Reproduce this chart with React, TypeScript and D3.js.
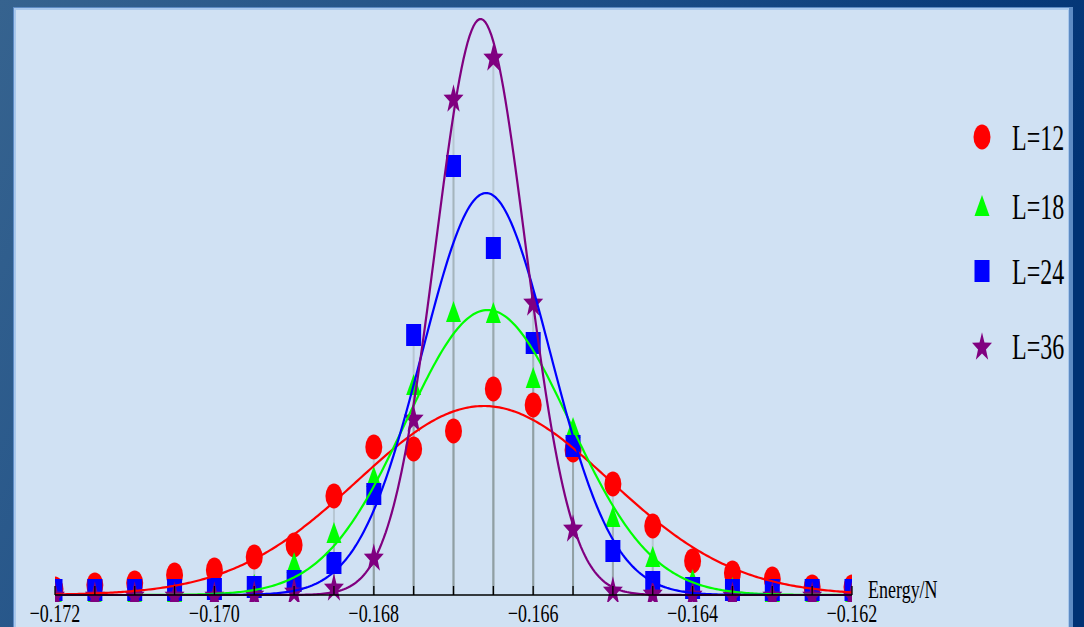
import React, { useEffect, useRef } from 'react';
import * as d3 from 'd3';

// energy per site, sampled every 0.0005
const energies = d3.range(21).map(i => -0.172 + i * 0.0005);

const seriesNames = ['L=12', 'L=18', 'L=24', 'L=36'];
const seriesColors = ['#ff0000', '#00ff00', '#0000ff', '#800080'];
const seriesShapes = ['circle', 'triangle', 'square', 'star'];

// histogram values
const valuesL12 = [0.06, 0.10, 0.12, 0.20, 0.25, 0.38, 0.50, 0.99, 1.48, 1.46, 1.64, 2.06, 1.90, 1.45, 1.11, 0.69, 0.34, 0.22, 0.16, 0.08, 0.08];
const valuesL18 = [0.01, 0.01, 0.02, 0.03, 0.05, 0.10, 0.32, 0.62, 1.18, 2.10, 2.83, 2.82, 2.17, 1.67, 0.78, 0.38, 0.15, 0.07, 0.03, 0.01, 0.01];
const valuesL24 = [0.05, 0.05, 0.05, 0.05, 0.06, 0.08, 0.14, 0.32, 1.01, 2.60, 4.29, 3.47, 2.52, 1.49, 0.44, 0.13, 0.07, 0.05, 0.05, 0.05, 0.05];
const valuesL36 = [0, 0, 0, 0, 0, 0.01, 0.04, 0.08, 0.38, 1.77, 4.97, 5.38, 2.93, 0.67, 0.05, 0.02, 0.01, 0, 0, 0, 0];
const seriesValues = [valuesL12, valuesL18, valuesL24, valuesL36];

// gaussian fit parameters for each L
const fitCenter = [-0.16662, -0.16657, -0.16659, -0.16666];
const fitSigma = [0.00158, 0.00103, 0.000799, 0.000565];
const fitHeight = [1.89, 2.85, 4.02, 5.76];

const xTickLabels = [-0.172, -0.170, -0.168, -0.166, -0.164, -0.162];

const W = 1084;
const H = 627;
const SY = 1.45; // vertical stretch of the original figure

const starPath = (R: number) => {
  const pts: string[] = [];
  for (let i = 0; i < 10; i++) {
    const r = i % 2 === 0 ? R : R * 0.4;
    const a = -Math.PI / 2 + (i * Math.PI) / 5;
    pts.push(`${(r * Math.cos(a)).toFixed(2)},${(r * Math.sin(a)).toFixed(2)}`);
  }
  return 'M' + pts.join('L') + 'Z';
};

const drawMarker = (sel: any, shape: string, color: string, k = 1) => {
  if (shape === 'circle') {
    sel.append('ellipse').attr('rx', 8.5 * k).attr('ry', 12.5 * k).attr('fill', color);
  } else if (shape === 'triangle') {
    sel.append('path').attr('d', `M0,${-11 * k}L${7.5 * k},${10 * k}L${-7.5 * k},${10 * k}Z`).attr('fill', color);
  } else if (shape === 'square') {
    sel.append('rect').attr('x', -7.5 * k).attr('y', -11 * k).attr('width', 15 * k).attr('height', 22 * k).attr('fill', color);
  } else {
    sel.append('path').attr('d', starPath(10.5 * k)).attr('transform', `translate(0,${1.5 * k}) scale(1,${SY})`).attr('fill', color);
  }
};

const App: React.FC = () => {
  const svgRef = useRef<SVGSVGElement>(null);

  useEffect(() => {
    if (!svgRef.current) return;
    const svg = d3.select(svgRef.current);
    svg.selectAll('*').remove();

    const defs = svg.append('defs');
    const grad = defs.append('linearGradient').attr('id', 'bg').attr('x1', '0').attr('y1', '0').attr('x2', '1').attr('y2', '0.3');
    grad.append('stop').attr('offset', '0%').attr('stop-color', '#36638f');
    grad.append('stop').attr('offset', '55%').attr('stop-color', '#1a4c86');
    grad.append('stop').attr('offset', '100%').attr('stop-color', '#003274');

    svg.append('rect').attr('width', W).attr('height', H).attr('fill', 'url(#bg)');

    // panel
    svg.append('rect').attr('x', 13).attr('y', 7).attr('width', 1060).attr('height', 630).attr('fill', '#5d8bc4');
    svg.append('rect').attr('x', 14).attr('y', 8).attr('width', 1055).attr('height', 630).attr('fill', '#a9c8ec');
    svg.append('rect').attr('x', 16).attr('y', 10).attr('width', 1052).attr('height', 630).attr('fill', '#d0e1f3');

    const x = d3.scaleLinear().domain([-0.172, -0.162]).range([55, 852]);
    const y = d3.scaleLinear().domain([0, 5.86]).range([595, 9]);

    defs.append('clipPath').attr('id', 'plotClip')
      .append('rect').attr('x', 55).attr('y', 0).attr('width', 797).attr('height', 602);

    const plot = svg.append('g').attr('clip-path', 'url(#plotClip)');

    // drop lines to the axis
    seriesValues.forEach(vals => {
      plot.append('g').selectAll('line').data(vals).join('line')
        .attr('x1', (_, i) => x(energies[i]))
        .attr('x2', (_, i) => x(energies[i]))
        .attr('y1', y(0))
        .attr('y2', d => y(d))
        .attr('stroke', '#7d8a8a')
        .attr('stroke-opacity', 0.3)
        .attr('stroke-width', 2);
    });

    // markers
    seriesValues.forEach((vals, s) => {
      const g = plot.append('g');
      vals.forEach((v, i) => {
        const m = g.append('g').attr('transform', `translate(${x(energies[i])},${y(v)})`);
        drawMarker(m, seriesShapes[s], seriesColors[s]);
      });
    });

    // axis
    const axis = svg.append('g');
    axis.append('line').attr('x1', 55).attr('x2', 852).attr('y1', y(0)).attr('y2', y(0))
      .attr('stroke', '#000').attr('stroke-width', 1.6);
    axis.selectAll('line.tick').data(energies).join('line').attr('class', 'tick')
      .attr('x1', d => x(d)).attr('x2', d => x(d))
      .attr('y1', y(0)).attr('y2', y(0) - 9)
      .attr('stroke', '#000').attr('stroke-width', 1.3);

    // fitted curves
    const line = d3.line<number>().x(d => x(d)).curve(d3.curveLinear);
    const grid = d3.range(0, 401).map(i => -0.172 + i * 0.000025);
    fitCenter.forEach((c, s) => {
      const f = (e: number) => fitHeight[s] * Math.exp(-((e - c) ** 2) / (2 * fitSigma[s] ** 2));
      plot.append('path')
        .datum(grid)
        .attr('fill', 'none')
        .attr('stroke', seriesColors[s])
        .attr('stroke-width', 2.2)
        .attr('d', line.y(d => y(f(d))) as any);
    });

    const font = '"Liberation Serif", "Times New Roman", serif';

    xTickLabels.forEach(t => {
      svg.append('text')
        .attr('transform', `translate(${x(t)},622) scale(1,${SY})`)
        .attr('text-anchor', 'middle')
        .attr('font-family', font)
        .attr('font-size', 18)
        .attr('fill', '#000')
        .text(t < 0 ? '\u2212' + Math.abs(t).toFixed(3).replace(/^0/, '0') : t.toFixed(3));
    });

    svg.append('text')
      .attr('transform', `translate(868,598) scale(1,${SY})`)
      .attr('font-family', font)
      .attr('font-size', 18)
      .attr('fill', '#000')
      .text('Energy/N');

    // legend
    const legendY = [137, 206, 271, 346];
    seriesNames.forEach((name, s) => {
      const m = svg.append('g').attr('transform', `translate(982,${legendY[s]})`);
      drawMarker(m, seriesShapes[s], seriesColors[s]);
      svg.append('text')
        .attr('transform', `translate(1012,${legendY[s] + 13}) scale(1,1.5)`)
        .attr('font-family', font)
        .attr('font-size', 24)
        .attr('fill', '#000')
        .text(name);
    });
  }, []);

  return (
    <svg
      ref={svgRef}
      width={W}
      height={H}
      style={{ position: 'absolute', left: 0, top: 0, display: 'block' }}
    />
  );
};

export default App;
